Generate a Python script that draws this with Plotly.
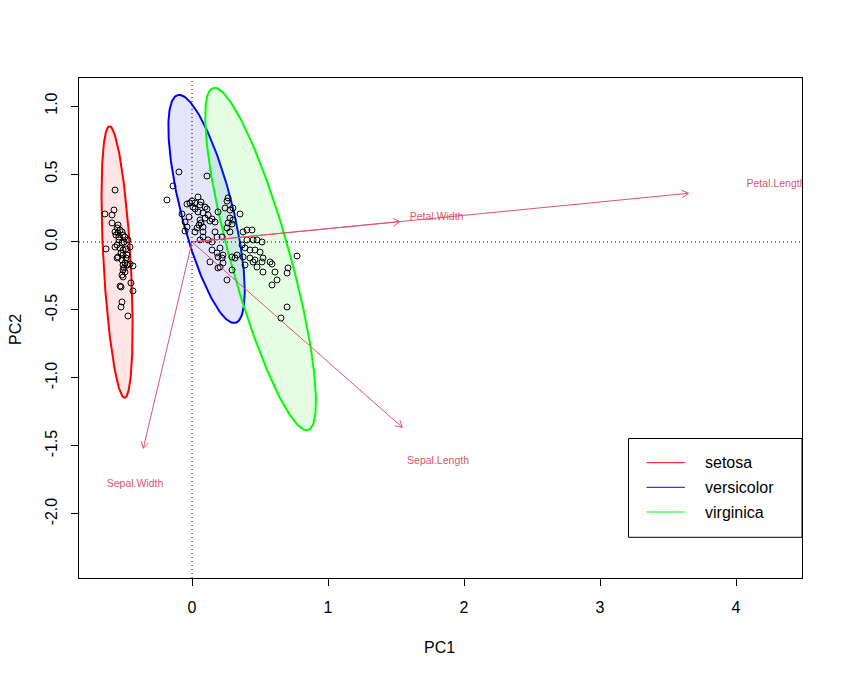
import numpy as np
import plotly.graph_objects as go

# PCA scores (setosa first, then versicolor / virginica)
pc1 = [
    -0.566, -0.640, -0.588, -0.574, -0.588, -0.544, -0.551, -0.529, -0.566, -0.544,
    -0.515, -0.507, -0.559, -0.537, -0.493, -0.471, -0.551, -0.515, -0.566, -0.456,
    -0.632, -0.507, -0.485, -0.522, -0.507, -0.544, -0.551, -0.515, -0.493, -0.507,
    -0.478, -0.456, -0.434, -0.507, -0.493, -0.515, -0.507, -0.522, -0.529, -0.449,
    -0.434, -0.515, -0.522, -0.471, -0.537, -0.500, -0.529, -0.485, -0.500, -0.478,
    -0.096, 0.110, -0.140, -0.184, 0.044, 0.000, -0.015, -0.037, 0.022, 0.066,
    0.007, 0.059, 0.096, 0.022, 0.044, 0.081, 0.110, -0.074, -0.022, 0.118,
    0.147, 0.096, 0.059, 0.066, 0.051, 0.081, 0.037, -0.051, -0.037, -0.051,
    0.169, 0.132, 0.022, 0.081, 0.081, 0.059, 0.118, 0.147, 0.265, 0.257,
    0.243, 0.279, 0.301, 0.353, 0.191, 0.279, 0.301, 0.265, 0.294, 0.169,
    0.184, 0.221, 0.257, 0.279, 0.375, 0.404, 0.441, 0.147, 0.184, 0.191,
    0.221, 0.228, 0.294, 0.206, 0.132, 0.191, 0.228, 0.368, 0.390, 0.426,
    0.463, 0.375, 0.426, 0.449, 0.316, 0.404, 0.449, 0.478, 0.515, 0.500,
    0.463, 0.522, 0.515, 0.574, 0.588, 0.522, 0.610, 0.706, 0.699, 0.625,
    0.588, 0.257, 0.294, 0.206, 0.772, 0.699, 0.654, 0.390, 0.478, 0.331,
]
pc2 = [
    0.382, 0.206, 0.199, 0.235, 0.140, 0.125, 0.103, 0.088, 0.074, 0.066,
    0.074, 0.051, 0.051, 0.037, 0.037, 0.015, -0.022, -0.007, -0.037, -0.037,
    -0.051, -0.059, -0.051, -0.081, -0.096, -0.110, -0.118, -0.132, -0.154, -0.169,
    -0.169, -0.162, -0.176, -0.206, -0.221, -0.243, -0.257, -0.331, -0.324, -0.301,
    -0.360, -0.441, -0.478, -0.544, 0.015, 0.000, -0.044, -0.118, -0.191, -0.096,
    0.515, 0.485, 0.412, 0.309, 0.331, 0.301, 0.287, 0.279, 0.287, 0.294,
    0.257, 0.272, 0.257, 0.243, 0.221, 0.213, 0.243, 0.206, 0.184, 0.199,
    0.169, 0.176, 0.162, 0.140, 0.125, 0.110, 0.103, 0.147, 0.110, 0.081,
    0.147, 0.154, 0.074, 0.074, 0.037, 0.015, 0.015, 0.000, 0.324, 0.301,
    0.250, 0.235, 0.250, 0.206, 0.221, 0.176, 0.162, 0.140, 0.132, 0.074,
    0.037, 0.037, 0.103, 0.074, 0.074, 0.088, 0.088, -0.059, -0.081, -0.110,
    -0.118, -0.096, -0.110, -0.044, -0.147, -0.191, -0.154, -0.022, -0.044, -0.059,
    -0.059, -0.110, -0.118, -0.147, -0.118, 0.015, 0.015, 0.015, 0.000, -0.074,
    -0.132, -0.118, -0.147, -0.147, -0.162, -0.221, -0.221, -0.191, -0.228, -0.279,
    -0.316, -0.279, -0.206, -0.184, -0.103, -0.478, -0.559, -0.169, -0.184, -0.096,
]

# variable loadings (arrow tips) and label positions
var_names = ["Petal.Length", "Petal.Width", "Sepal.Length", "Sepal.Width"]
load_pc1 = [3.650, 1.529, 1.546, -0.358]
load_pc2 = [0.358, 0.150, -1.363, -1.517]
label_pc1 = [4.294, 1.798, 1.809, -0.419]
label_pc2 = [0.426, 0.179, -1.610, -1.782]

# confidence ellipses per species
species = ["setosa", "versicolor", "virginica"]
species_colors = ["#FF0000", "#0000FF", "#00FF00"]
species_fills = ["rgba(255,0,0,0.1)", "rgba(0,0,255,0.1)", "rgba(0,255,0,0.1)"]
ell_cx = [-0.551, 0.107, 0.504]
ell_cy = [-0.147, 0.243, -0.125]
ell_a = [1.000, 0.864, 1.305]
ell_b = [0.100, 0.190, 0.218]
ell_angle = [93.2, 104.2, 105.5]

arrow_color = "#DF536B"
font_family = "Liberation Sans, Arial, Helvetica, sans-serif"

fig = go.Figure()

# ellipses
t = np.linspace(0, 2 * np.pi, 240)
for i in range(len(species)):
    phi = np.radians(ell_angle[i])
    ex = ell_cx[i] + ell_a[i] * np.cos(t) * np.cos(phi) - ell_b[i] * np.sin(t) * np.sin(phi)
    ey = ell_cy[i] + ell_a[i] * np.cos(t) * np.sin(phi) + ell_b[i] * np.sin(t) * np.cos(phi)
    fig.add_trace(go.Scatter(
        x=ex, y=ey, mode="lines", fill="toself",
        fillcolor=species_fills[i],
        line=dict(color=species_colors[i], width=2),
        hoverinfo="skip", showlegend=False
    ))

# scores
fig.add_trace(go.Scatter(
    x=pc1, y=pc2, mode="markers",
    marker=dict(symbol="circle-open", size=6, color="black", line=dict(width=1)),
    showlegend=False
))

# loading arrows with open heads
head_len = 0.055
ax, ay = [], []
for tx, ty in zip(load_pc1, load_pc2):
    ax += [0, tx, None]
    ay += [0, ty, None]
    th = np.arctan2(ty, tx)
    for s in (1, -1):
        ang = th + np.pi + s * np.pi / 6
        ax += [tx, tx + head_len * np.cos(ang), None]
        ay += [ty, ty + head_len * np.sin(ang), None]
fig.add_trace(go.Scatter(
    x=ax, y=ay, mode="lines", line=dict(color=arrow_color, width=1),
    hoverinfo="skip", showlegend=False
))

fig.add_trace(go.Scatter(
    x=label_pc1, y=label_pc2, mode="text", text=var_names,
    textfont=dict(family=font_family, size=10.5, color=arrow_color),
    textposition="middle center", cliponaxis=True,
    hoverinfo="skip", showlegend=False
))

# dotted reference lines
fig.add_shape(type="line", xref="x", yref="paper", x0=0, x1=0, y0=0, y1=1,
              line=dict(color="black", width=1, dash="1px,3px"))
fig.add_shape(type="line", xref="paper", yref="y", x0=0, x1=1, y0=0, y1=0,
              line=dict(color="black", width=1, dash="1px,3px"))

# hand-drawn legend box (R style)
fig.add_shape(type="rect", xref="paper", yref="paper",
              x0=0.760, x1=1.0, y0=0.0814, y1=0.279,
              line=dict(color="black", width=1), fillcolor="white")
leg_y = [0.2306, 0.1814, 0.132]
for i in range(len(species)):
    fig.add_shape(type="line", xref="paper", yref="paper",
                  x0=0.785, x1=0.838, y0=leg_y[i], y1=leg_y[i],
                  line=dict(color=species_colors[i], width=1))
    fig.add_annotation(xref="paper", yref="paper", x=0.8627, y=leg_y[i],
                       text=species[i], showarrow=False, xanchor="left",
                       yanchor="middle", font=dict(family=font_family, size=16, color="black"))

# axis titles
fig.add_annotation(xref="paper", yref="paper", x=0.4993, y=-0.138, text="PC1",
                   showarrow=False, xanchor="center", yanchor="middle",
                   font=dict(family=font_family, size=16, color="black"))
fig.add_annotation(xref="paper", yref="paper", x=-0.0885, y=0.496, text="PC2",
                   showarrow=False, xanchor="center", yanchor="middle", textangle=-90,
                   font=dict(family=font_family, size=16, color="black"))

axis_common = dict(
    showgrid=False, zeroline=False, showline=True, linecolor="black", linewidth=1,
    mirror=True, ticks="outside", ticklen=7, tickcolor="black", tickwidth=1,
    tickfont=dict(family=font_family, size=16, color="black"),
)
fig.update_xaxes(range=[-0.831, 4.485], tickvals=[0, 1, 2, 3, 4],
                 ticktext=["0", "1", "2", "3", "4"], ticklabelstandoff=8, **axis_common)
fig.update_yaxes(range=[-2.471, 1.206],
                 tickvals=[-2, -1.5, -1, -0.5, 0, 0.5, 1],
                 ticktext=["-2.0", "-1.5", "-1.0", "-0.5", "0.0", "0.5", "1.0"],
                 tickangle=-90, ticklabelstandoff=8, **axis_common)

# page body has an 8px margin, so the figure is sized to fit inside it
fig.update_layout(
    width=835, height=669,
    margin=dict(l=71, r=41, t=70, b=99),
    paper_bgcolor="white", plot_bgcolor="white",
    font=dict(family=font_family, size=16, color="black"),
    showlegend=False,
)

fig.write_html("out.html")
